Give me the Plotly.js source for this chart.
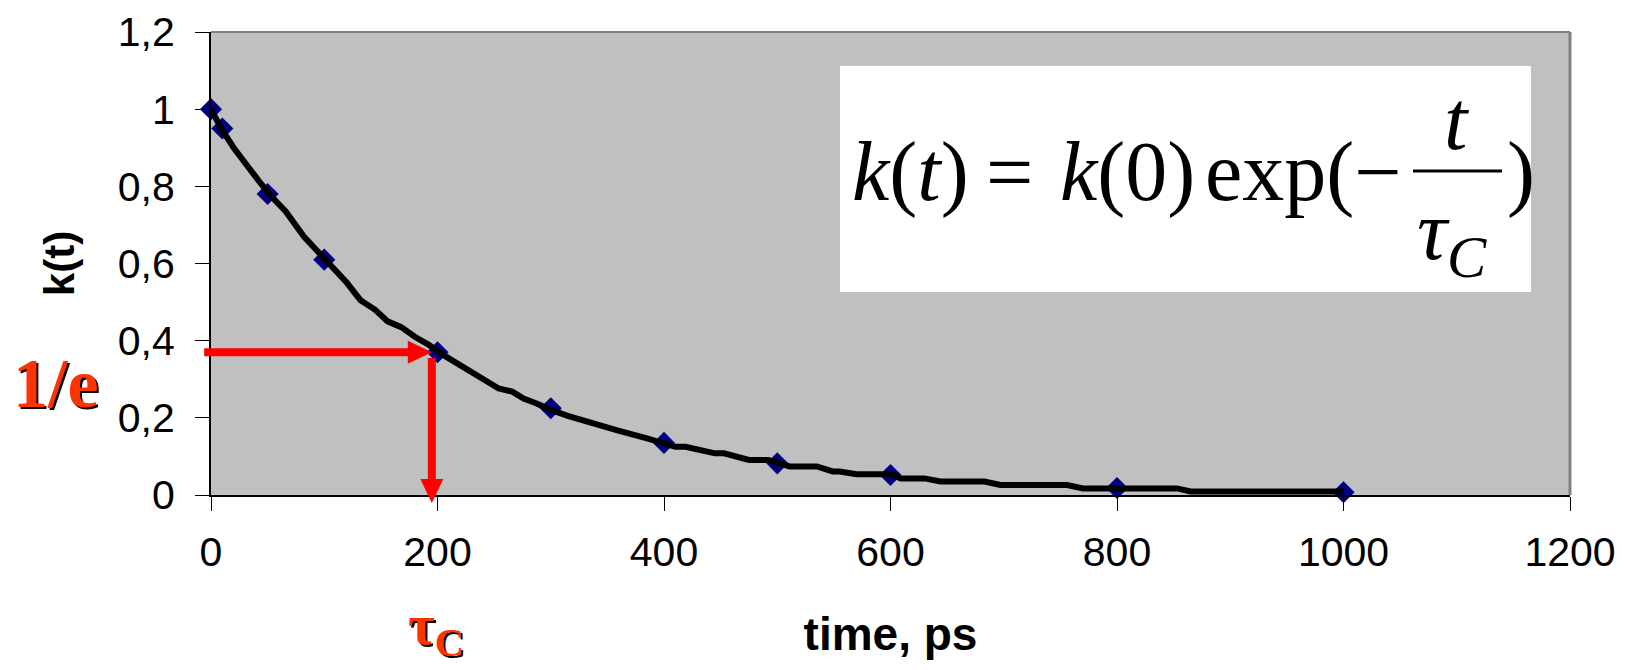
<!DOCTYPE html>
<html>
<head>
<meta charset="utf-8">
<script src="https://cdn.plot.ly/plotly-3.0.1.min.js"></script>
<style>html,body{margin:0;padding:0;background:#fff;}#chart{width:1642px;height:670px;}</style>
</head>
<body>
<div id="chart"></div>
<script>
// ---- data ----
const pointTime = [0, 10, 50, 100, 200, 300, 400, 500, 600, 800, 1000];
const pointK    = [1.0, 0.95, 0.78, 0.61, 0.37, 0.225, 0.135, 0.082, 0.052, 0.018, 0.007];

const lineTime = [0, 9, 20, 31, 42, 53, 66, 82, 96, 110, 120, 132, 145, 156, 168, 180, 192, 205, 220, 233, 243, 254, 266, 276, 287, 299, 315, 331, 358, 385, 410, 419, 445, 453, 475, 492, 511, 535, 549, 555, 570, 601, 609, 630, 644, 683, 697, 756, 770, 853, 865, 1000];
const lineK    = [1.0, 0.95, 0.90, 0.855, 0.815, 0.775, 0.735, 0.67, 0.625, 0.58, 0.55, 0.505, 0.48, 0.45, 0.435, 0.41, 0.39, 0.363, 0.337, 0.311, 0.298, 0.276, 0.268, 0.25, 0.238, 0.222, 0.205, 0.19, 0.168, 0.147, 0.125, 0.125, 0.108, 0.108, 0.091, 0.091, 0.074, 0.074, 0.061, 0.061, 0.054, 0.054, 0.043, 0.043, 0.035, 0.035, 0.026, 0.026, 0.017, 0.017, 0.009, 0.009];

const xTickVals = [0, 200, 400, 600, 800, 1000, 1200];
const xTickText = ['0', '200', '400', '600', '800', '1000', '1200'];
const yTickVals = [0, 0.2, 0.4, 0.6, 0.8, 1, 1.2];
const yTickText = ['0', '0,2', '0,4', '0,6', '0,8', '1', '1,2'];

const xTitle = 'time, ps';
const yTitle = 'k(t)';
const tauC = 195;          // marked time constant on the time axis
const invE = 0.37;         // 1/e level
const arrowStartTime = -6;
const arrowTopK = 0.355;
const arrowEndK = -0.021;

// ---- layout helpers ----
const L = 211, T = 32, W = 1359, H = 463;
const X_MAX = 1200, Y_MAX = 1.2;
const px = x => (x - L) / W;            // pixel -> paper x
const py = y => (T + H - y) / H;        // pixel -> paper y
const tx = t => t / X_MAX;              // data -> paper x
const ky = k => k / Y_MAX;              // data -> paper y

const serif = 'Liberation Serif, Times New Roman, serif';
const sans = 'Liberation Sans, Arial, sans-serif';
const red = '#ff3300';
const arrowRed = '#ff0000';

// arrow geometry (head length / half width / shaft width in px)
const headLen = 24, headHalf = 11.5, shaft = 8;
const hx = tx(tauC), hy = ky(invE);
const hArrowHead = `M ${hx} ${hy} L ${hx - headLen / W} ${hy + headHalf / H} L ${hx - headLen / W} ${hy - headHalf / H} Z`;
const vy = ky(arrowEndK);
const vArrowHead = `M ${hx} ${vy} L ${hx - headHalf / W} ${vy + headLen / H} L ${hx + headHalf / W} ${vy + headLen / H} Z`;

const traces = [
  {
    x: pointTime, y: pointK, type: 'scatter', mode: 'markers',
    marker: {symbol: 'diamond', size: 17, color: '#000080'},
    hoverinfo: 'skip', showlegend: false, cliponaxis: false
  },
  {
    x: lineTime, y: lineK, type: 'scatter', mode: 'lines',
    line: {color: '#000000', width: 6},
    hoverinfo: 'skip', showlegend: false, cliponaxis: false
  }
];

const fFormula = {family: serif, size: 84, color: '#000'};

const layout = {
  width: 1642, height: 670,
  margin: {l: L, r: 1642 - L - W, t: T, b: 670 - T - H, pad: 0},
  paper_bgcolor: '#ffffff',
  plot_bgcolor: '#c0c0c0',
  showlegend: false,
  xaxis: {
    range: [0, X_MAX], tickvals: xTickVals, ticktext: xTickText,
    showgrid: false, zeroline: false,
    showline: true, linecolor: '#000', linewidth: 2,
    ticks: 'outside', ticklen: 14, tickwidth: 1, tickcolor: '#000',
    tickfont: {family: sans, size: 41, color: '#000'},
    ticklabelstandoff: 6,
    title: {text: '<b>' + xTitle + '</b>', font: {family: sans, size: 46, color: '#000'}, standoff: 44},
    automargin: false, fixedrange: true
  },
  yaxis: {
    range: [0, Y_MAX], tickvals: yTickVals, ticktext: yTickText,
    showgrid: false, zeroline: false,
    showline: true, linecolor: '#000', linewidth: 2,
    ticks: 'outside', ticklen: 14, tickwidth: 1, tickcolor: '#000',
    tickfont: {family: sans, size: 41, color: '#000'},
    ticklabelstandoff: 12,
    title: {text: '<b>' + yTitle + '</b>', font: {family: sans, size: 42, color: '#000'}, standoff: 30},
    automargin: false, fixedrange: true
  },
  shapes: [
    // grey frame on top / right of plot area
    {type: 'line', xref: 'paper', yref: 'paper', x0: 0, x1: 1, y0: 1, y1: 1, line: {color: '#808080', width: 2}},
    {type: 'line', xref: 'paper', yref: 'paper', x0: 1, x1: 1, y0: 0, y1: 1, line: {color: '#808080', width: 3}},
    // white formula box
    {type: 'rect', xref: 'paper', yref: 'paper', x0: px(840), x1: px(1531), y0: py(292), y1: py(66),
     fillcolor: '#ffffff', line: {width: 0}, layer: 'above'},
    // fraction bar
    {type: 'line', xref: 'paper', yref: 'paper', x0: px(1413), x1: px(1502), y0: py(171), y1: py(171),
     line: {color: '#000', width: 3}, layer: 'above'},
    // horizontal red arrow (1/e level)
    {type: 'line', xref: 'paper', yref: 'paper', x0: tx(arrowStartTime), x1: hx - (headLen - 2) / W, y0: hy, y1: hy,
     line: {color: arrowRed, width: shaft}, layer: 'above'},
    {type: 'path', xref: 'paper', yref: 'paper', path: hArrowHead, fillcolor: arrowRed, line: {width: 0}, layer: 'above'},
    // vertical red arrow (tau_C)
    {type: 'line', xref: 'paper', yref: 'paper', x0: hx, x1: hx, y0: ky(arrowTopK), y1: vy + (headLen - 2) / H,
     line: {color: arrowRed, width: shaft}, layer: 'above'},
    {type: 'path', xref: 'paper', yref: 'paper', path: vArrowHead, fillcolor: arrowRed, line: {width: 0}, layer: 'above'}
  ],
  annotations: [
    {x: px(56), y: py(383), xref: 'paper', yref: 'paper', xanchor: 'center', yanchor: 'middle',
     text: '<b>1/e</b>', showarrow: false,
     font: {family: serif, size: 70, color: red, shadow: '2px 2px 0px #000'}},
    {x: px(436), y: py(628), xref: 'paper', yref: 'paper', xanchor: 'center', yanchor: 'middle',
     text: '<b>τ<sub>C</sub></b>', showarrow: false,
     font: {family: serif, size: 58, color: red, shadow: '2px 2px 0px #000'}},
    // formula
    {x: px(850), y: py(172), xref: 'paper', yref: 'paper', xanchor: 'left', yanchor: 'middle',
     text: '<i>k</i>(<i>t</i>)', showarrow: false, font: fFormula},
    {x: px(1009), y: py(172), xref: 'paper', yref: 'paper', xanchor: 'center', yanchor: 'middle',
     text: '=', showarrow: false, font: fFormula},
    {x: px(1058), y: py(172), xref: 'paper', yref: 'paper', xanchor: 'left', yanchor: 'middle',
     text: '<i>k</i>(0)', showarrow: false, font: fFormula},
    {x: px(1203), y: py(172), xref: 'paper', yref: 'paper', xanchor: 'left', yanchor: 'middle',
     text: 'exp(−', showarrow: false, font: fFormula},
    {x: px(1505), y: py(172), xref: 'paper', yref: 'paper', xanchor: 'left', yanchor: 'middle',
     text: ')', showarrow: false, font: fFormula},
    {x: px(1457), y: py(120), xref: 'paper', yref: 'paper', xanchor: 'center', yanchor: 'middle',
     text: '<i>t</i>', showarrow: false, font: fFormula},
    {x: px(1452), y: py(237), xref: 'paper', yref: 'paper', xanchor: 'center', yanchor: 'middle',
     text: '<i>τ</i><sub><i>C</i></sub>', showarrow: false, font: fFormula}
  ]
};

Plotly.newPlot('chart', traces, layout, {displayModeBar: false, staticPlot: true});
</script>
</body>
</html>
